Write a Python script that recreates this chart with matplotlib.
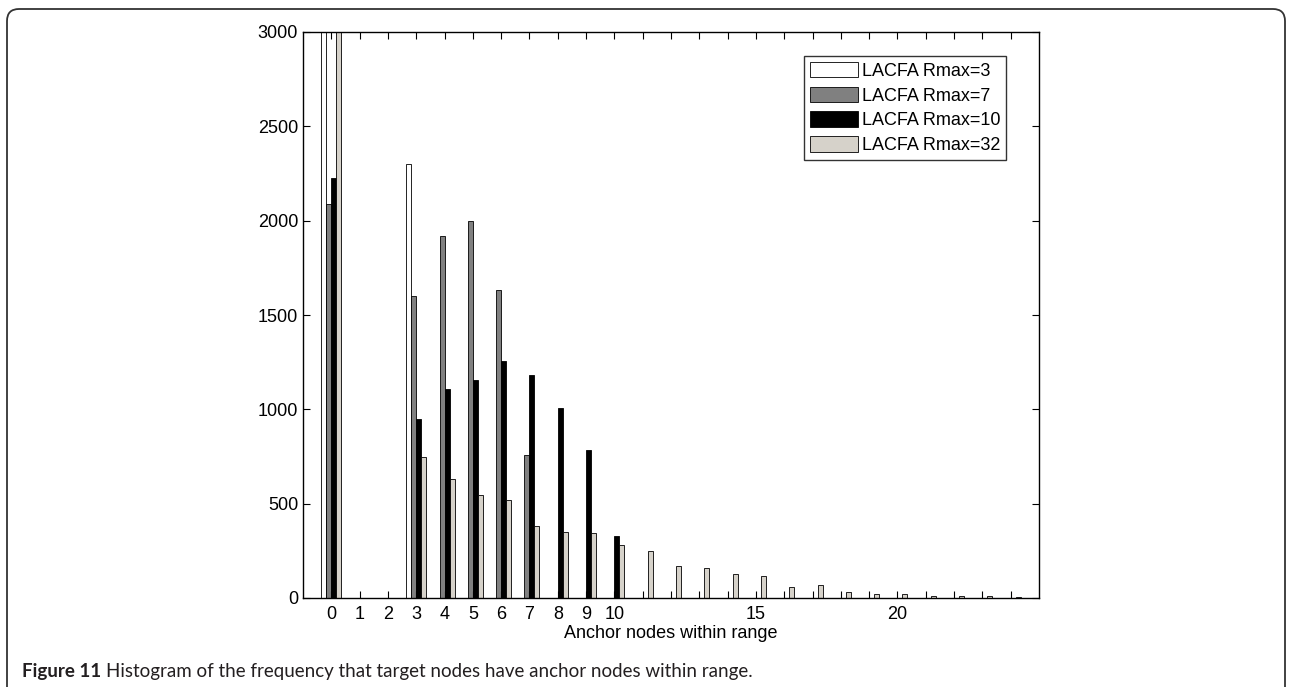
import matplotlib.pyplot as plt
import matplotlib.patches as mpatches
from matplotlib.transforms import IdentityTransform
import numpy as np

# Number of anchor nodes within range (histogram bins)
anchors = list(range(25))

# Frequency counts for each LACFA configuration
rmax3 = [3500, 0, 0, 2300, 0, 0, 0, 0, 0, 0, 0, 0, 0,
         0, 0, 0, 0, 0, 0, 0, 0, 0, 0, 0, 0]
rmax7 = [2090, 0, 0, 1600, 1920, 2000, 1630, 760, 0, 0, 0, 0, 0,
         0, 0, 0, 0, 0, 0, 0, 0, 0, 0, 0, 0]
rmax10 = [2225, 0, 0, 950, 1110, 1157, 1258, 1184, 1008, 786, 330, 0, 0,
          0, 0, 0, 0, 0, 0, 0, 0, 0, 0, 0, 0]
rmax32 = [3400, 0, 0, 749, 630, 546, 519, 383, 352, 346, 282, 250, 171,
          160, 127, 118, 60, 71, 32, 19, 23, 12, 12, 12, 3]

series = [rmax3, rmax7, rmax10, rmax32]
labels = ['LACFA Rmax=3', 'LACFA Rmax=7', 'LACFA Rmax=10', 'LACFA Rmax=32']
colors = ['#ffffff', '#808080', '#000000', '#d6d2ca']

tick_labels = [str(i) if (i <= 10 or i in (15, 20)) else '' for i in anchors]

plt.rcParams['font.family'] = ['Liberation Sans', 'DejaVu Sans']
FS = 13

W, H = 1289, 687
fig = plt.figure(figsize=(W / 100, H / 100), dpi=100)
ax = fig.add_axes([303 / W, 1 - 598 / H, (1039 - 303) / W, (598 - 32) / H])

# Grouped bars, four per bin
width = 0.177
x = np.array(anchors)
for i, (vals, col, lab) in enumerate(zip(series, colors, labels)):
    offset = (i - 1.5) * width
    ax.bar(x + offset, vals, width=width, color=col, edgecolor='black',
           linewidth=0.6, label=lab)

ax.set_xlim(-1, 25)
ax.set_ylim(0, 3000)
ax.set_yticks(range(0, 3001, 500))
ax.set_xticks(anchors)
ax.set_xticklabels(tick_labels)
ax.tick_params(axis='both', direction='in', length=5, width=0.8,
               top=True, right=True, labelsize=FS)
ax.tick_params(axis='x', pad=5.5)
ax.tick_params(axis='y', pad=3.5)
for sp in ax.spines.values():
    sp.set_linewidth(1.0)
ax.set_xlabel('Anchor nodes within range', fontsize=FS, labelpad=1.5)

leg = ax.legend(loc='upper left', bbox_to_anchor=(804 / W, 1 - 56 / H),
                bbox_transform=fig.transFigure, borderaxespad=0,
                fontsize=FS, frameon=True, fancybox=False,
                handlelength=2.65, handleheight=0.95, handletextpad=0.22,
                labelspacing=0.38, borderpad=0.32)
leg.get_frame().set_edgecolor('black')
leg.get_frame().set_linewidth(1.0)

# Rounded frame around the figure panel
frame = mpatches.FancyBboxPatch((7, -30), 1278, H - 9 + 30,
                                boxstyle='round,pad=0,rounding_size=12',
                                transform=IdentityTransform(),
                                facecolor='none', edgecolor='#333333',
                                linewidth=1.3)
fig.patches.append(frame)

# Caption: bold figure number followed by regular text
cap_y = 1 - 672 / H
cap_fs = 13.5
t1 = fig.text(22 / W, cap_y, 'Figure 11', fontsize=cap_fs, fontweight='bold',
              family=['Lato', 'DejaVu Sans'], color='#231f20', va='center')
fig.canvas.draw()
bb = t1.get_window_extent()
fig.text((bb.x1 + 5) / W, cap_y,
         'Histogram of the frequency that target nodes have anchor nodes within range.',
         fontsize=cap_fs, family=['Lato', 'DejaVu Sans'], color='#231f20',
         va='center')

fig.savefig('out.png', dpi=100)
